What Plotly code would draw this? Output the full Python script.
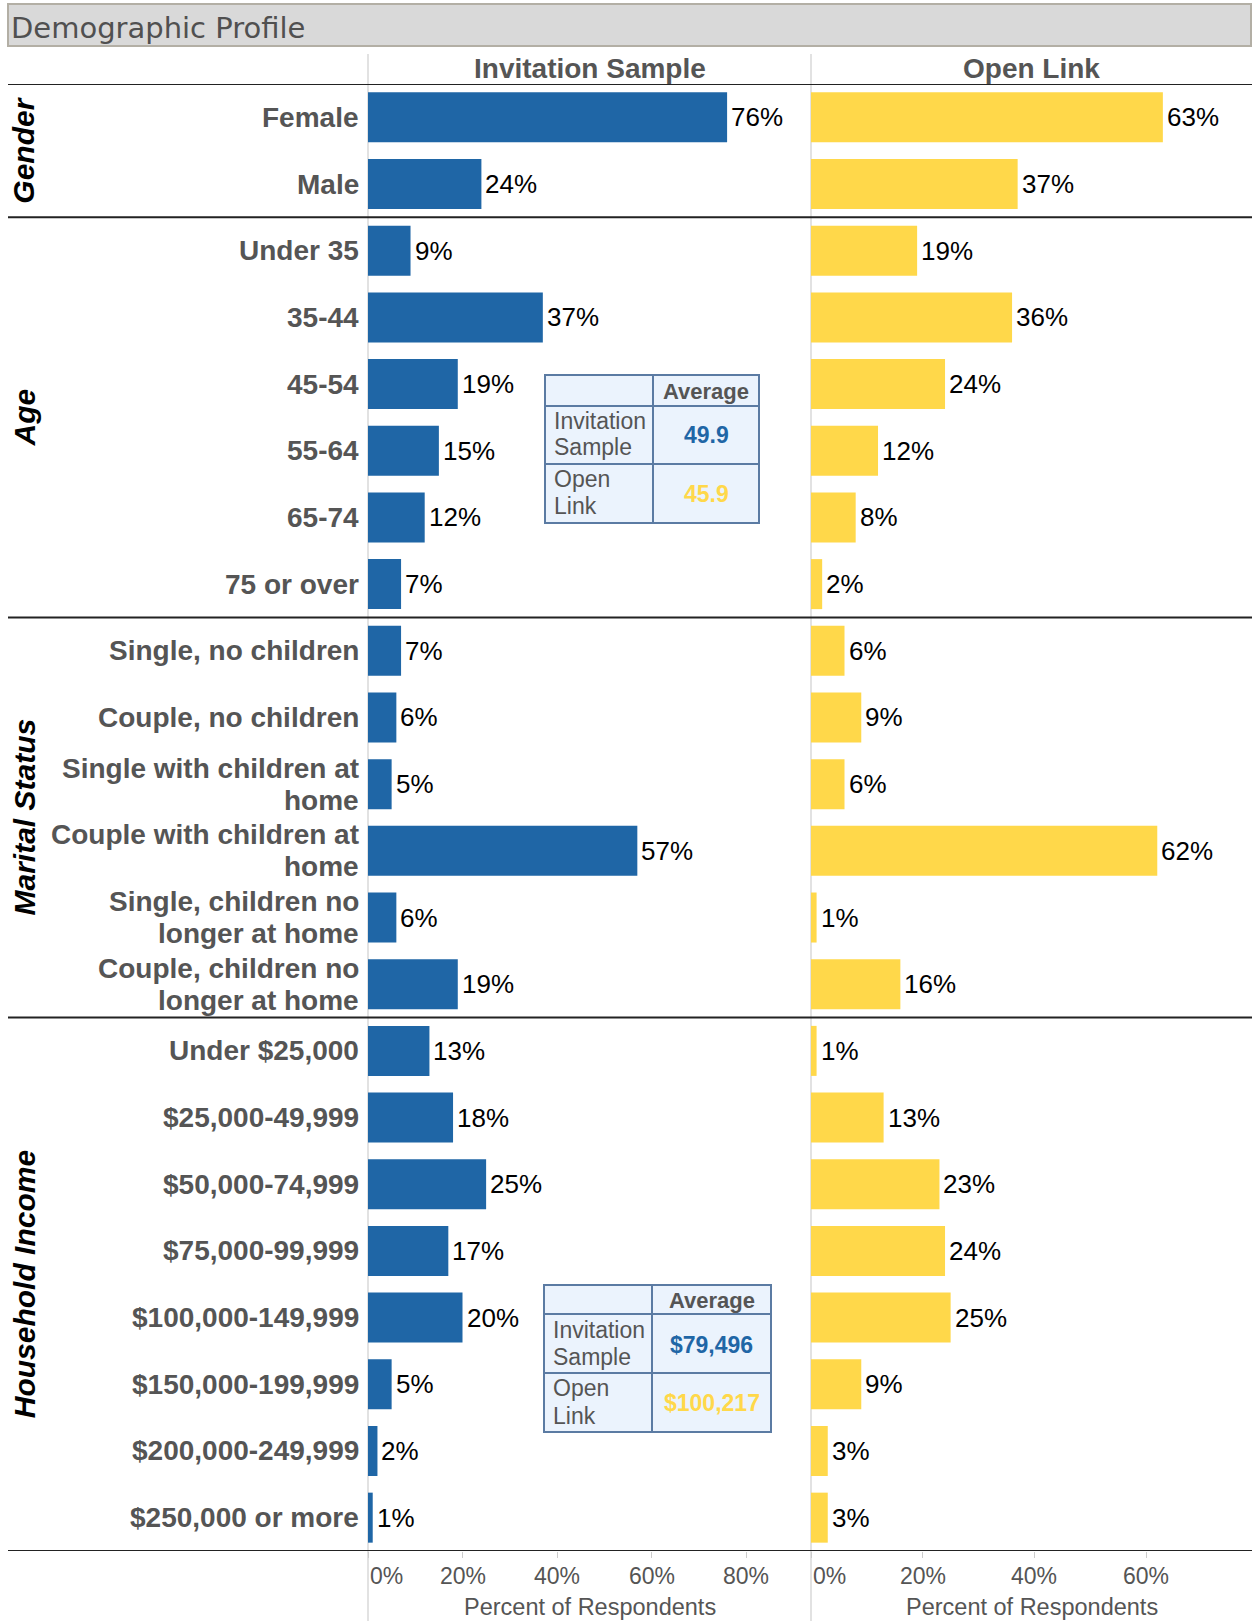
import plotly.graph_objects as go

# ---------------- data ----------------
gender_cats = ["Female", "Male"]
gender_inv = [76, 24]
gender_open = [63, 37]

age_cats = ["Under 35", "35-44", "45-54", "55-64", "65-74", "75 or over"]
age_inv = [9, 37, 19, 15, 12, 7]
age_open = [19, 36, 24, 12, 8, 2]

marital_cats = ["Single, no children", "Couple, no children",
                "Single with children at<br>home", "Couple with children at<br>home",
                "Single, children no<br>longer at home", "Couple, children no<br>longer at home"]
marital_inv = [7, 6, 5, 57, 6, 19]
marital_open = [6, 9, 6, 62, 1, 16]

income_cats = ["Under $25,000", "$25,000-49,999", "$50,000-74,999", "$75,000-99,999",
               "$100,000-149,999", "$150,000-199,999", "$200,000-249,999", "$250,000 or more"]
income_inv = [13, 18, 25, 17, 20, 5, 2, 1]
income_open = [1, 13, 23, 24, 25, 9, 3, 3]

group_names = ["Gender", "Age", "Marital Status", "Household Income"]
panel_titles = ["Invitation Sample", "Open Link"]
tick_vals_inv = [0, 20, 40, 60, 80]
tick_vals_open = [0, 20, 40, 60]
axis_title = "Percent of Respondents"
title_text = "Demographic Profile"

avg_header = "Average"
avg_row_labels = [["Invitation", "Sample"], ["Open", "Link"]]
age_avg_values = ["49.9", "45.9"]
income_avg_values = ["$79,496", "$100,217"]

# ---------------- styling ----------------
W, H = 1252, 1621
BLUE = "#1F66A6"
YELLOW = "#FFD84A"
GRAY_TXT = "#555555"
FONT = "Liberation Sans, Arial, sans-serif"
X_INV0, X_OPEN0, X_END = 368, 811, 1252
ROW_TOP, ROW_BOT = 84, 1551


def px(x):
    return x / W


def py(y):
    return 1 - y / H


groups = [(gender_cats, gender_inv, gender_open),
          (age_cats, age_inv, age_open),
          (marital_cats, marital_inv, marital_open),
          (income_cats, income_inv, income_open)]

cats, inv, opn, bounds = [], [], [], []
for c, a, b in groups:
    start = len(cats)
    cats += c
    inv += a
    opn += b
    bounds.append((start, len(cats) - 1))
rows = list(range(len(cats)))
n = len(cats)

fig = go.Figure()
fig.add_trace(go.Bar(y=rows, x=inv, orientation="h", width=0.75, marker=dict(color=BLUE, line=dict(width=0)),
                     xaxis="x", yaxis="y", hoverinfo="skip"))
fig.add_trace(go.Bar(y=rows, x=opn, orientation="h", width=0.75, marker=dict(color=YELLOW, line=dict(width=0)),
                     xaxis="x2", yaxis="y", hoverinfo="skip"))

inv_range = (X_OPEN0 - X_INV0) / 4.725
open_range = (X_END - X_OPEN0) / 5.585

axis_common = dict(showgrid=False, zeroline=False, showline=False, ticks="outside", ticklen=6,
                   tickcolor="#cccccc", tickwidth=1, showticklabels=False, fixedrange=True)
fig.update_layout(
    width=W, height=H, margin=dict(l=0, r=0, t=0, b=0),
    paper_bgcolor="white", plot_bgcolor="white", showlegend=False, barmode="overlay",
    xaxis=dict(domain=[px(X_INV0), px(X_OPEN0)], range=[0, inv_range], anchor="y",
               tickvals=tick_vals_inv, **axis_common),
    xaxis2=dict(domain=[px(X_OPEN0), 1.0], range=[0, open_range], anchor="y",
                tickvals=tick_vals_open, **axis_common),
    yaxis=dict(domain=[py(ROW_BOT), py(ROW_TOP)], range=[n - 0.5, -0.5], showgrid=False,
               zeroline=False, showticklabels=False, showline=False, fixedrange=True),
)

shapes = []
ann = []

# title bar
shapes.append(dict(type="rect", xref="paper", yref="paper", x0=px(8), x1=px(1251), y0=py(46), y1=py(4),
                   fillcolor="#d9d9d9", line=dict(color="#b3afa5", width=2), layer="below"))
ann.append(dict(text=title_text, xref="paper", yref="paper", x=px(9), y=py(28), xanchor="left",
                yanchor="middle", showarrow=False, font=dict(family="DejaVu Sans", size=29, color="#505050")))

# vertical gray separators
for xv in (X_INV0, X_OPEN0):
    shapes.append(dict(type="line", xref="paper", yref="paper", x0=px(xv), x1=px(xv), y0=py(54), y1=0,
                       line=dict(color="#d9d9d9", width=1.5), layer="below"))

# horizontal black separators
for yv in [-0.5] + [b[1] + 0.5 for b in bounds]:
    shapes.append(dict(type="line", xref="paper", yref="y", x0=px(8), x1=1.0, y0=yv, y1=yv,
                       line=dict(color="#222222", width=2)))

# panel headers
for title, xc in zip(panel_titles, [(X_INV0 + X_OPEN0) / 2, (X_OPEN0 + X_END) / 2]):
    ann.append(dict(text=f"<b>{title}</b>", xref="paper", yref="paper", x=px(xc), y=py(68),
                    xanchor="center", yanchor="middle", showarrow=False,
                    font=dict(family=FONT, size=28, color=GRAY_TXT)))

# category labels
for i, c in enumerate(cats):
    lines = c.split("<br>")
    offs = [0] if len(lines) == 1 else [16, -16]
    for line, o in zip(lines, offs):
        ann.append(dict(text=f"<b>{line}</b>", xref="paper", yref="y", x=px(361), y=i, yshift=o,
                        xanchor="right", yanchor="middle", showarrow=False,
                        font=dict(family=FONT, size=28, color=GRAY_TXT)))

# group labels
for name, (s, e) in zip(group_names, bounds):
    ann.append(dict(text=f"<b><i>{name}</i></b>", xref="paper", yref="y", x=px(24), y=(s + e) / 2,
                    xanchor="center", yanchor="middle", textangle=-90, showarrow=False,
                    font=dict(family=FONT, size=30, color="black")))

# value labels
for axis, vals in (("x", inv), ("x2", opn)):
    for i, v in enumerate(vals):
        ann.append(dict(text=f"{v}%", xref=axis, yref="y", x=v, y=i, xanchor="left", yanchor="middle",
                        xshift=2, showarrow=False, font=dict(family=FONT, size=26, color="black")))

# tick labels and axis titles
for axis, tv, xc in (("x", tick_vals_inv, (X_INV0 + X_OPEN0) / 2), ("x2", tick_vals_open, (X_OPEN0 + X_END) / 2)):
    for v in tv:
        ann.append(dict(text=f"{v}%", xref=axis, yref="paper", x=v, y=py(1576),
                        xanchor="left" if v == 0 else "center", yanchor="middle", showarrow=False,
                        font=dict(family=FONT, size=23, color=GRAY_TXT)))
    ann.append(dict(text=axis_title, xref="paper", yref="paper", x=px(xc), y=py(1607),
                    xanchor="center", yanchor="middle", showarrow=False,
                    font=dict(family=FONT, size=23.5, color=GRAY_TXT)))


# average tables
def add_table(x0, xs, x1, y0, yh, yr, y1, values, line_ys):
    shapes.append(dict(type="rect", xref="paper", yref="paper", x0=px(x0), x1=px(x1), y0=py(y1), y1=py(y0),
                       fillcolor="#EBF3FD", line=dict(color="#5B7BA3", width=2)))
    shapes.append(dict(type="line", xref="paper", yref="paper", x0=px(xs), x1=px(xs), y0=py(y1), y1=py(y0),
                       line=dict(color="#5B7BA3", width=2)))
    for yy in (yh, yr):
        shapes.append(dict(type="line", xref="paper", yref="paper", x0=px(x0), x1=px(x1), y0=py(yy), y1=py(yy),
                           line=dict(color="#5B7BA3", width=2)))
    xc = (xs + x1) / 2
    ann.append(dict(text=f"<b>{avg_header}</b>", xref="paper", yref="paper", x=px(xc), y=py((y0 + yh) / 2 + 1),
                    xanchor="center", yanchor="middle", showarrow=False,
                    font=dict(family=FONT, size=22, color=GRAY_TXT)))
    for (lab, val, col, (ya, yb)) in zip(avg_row_labels, values, [BLUE, YELLOW], line_ys):
        for t, yy in zip(lab, (ya, yb)):
            ann.append(dict(text=t, xref="paper", yref="paper", x=px(x0 + 7), y=py(yy), xanchor="left",
                            yanchor="middle", showarrow=False, font=dict(family=FONT, size=23, color=GRAY_TXT)))
        ann.append(dict(text=f"<b>{val}</b>", xref="paper", yref="paper", x=px(xc), y=py((ya + yb) / 2 + 1),
                        xanchor="center", yanchor="middle", showarrow=False,
                        font=dict(family=FONT, size=23, color=col)))


add_table(545, 653, 759, 375, 406, 464, 523, age_avg_values, [(421, 447), (479, 506)])
add_table(544, 652, 771, 1285, 1314, 1373, 1432, income_avg_values, [(1330, 1357), (1388, 1416)])

fig.update_layout(shapes=shapes, annotations=ann)
fig.write_html("out.html", config={"displayModeBar": False, "staticPlot": True},
               post_script="document.body.style.margin='0px';document.body.style.overflow='hidden';")
